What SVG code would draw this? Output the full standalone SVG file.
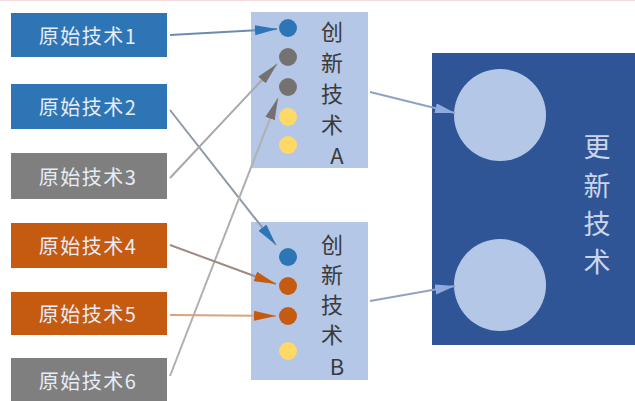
<svg xmlns="http://www.w3.org/2000/svg" width="635" height="401" viewBox="0 0 635 401">
<style>
.box text{font-family:"Noto Sans CJK SC","Noto Sans",sans-serif;font-size:20px;fill:#E6ECF5;text-anchor:middle;dominant-baseline:central;letter-spacing:1.5px}
.panel rect{fill:#B4C7E7}
.panel text{font-family:"Noto Sans CJK SC","Noto Sans",sans-serif;font-size:22px;fill:#3A3A3A;text-anchor:middle;dominant-baseline:central}
.big text{font-family:"Noto Sans CJK SC","Noto Sans",sans-serif;font-size:27px;fill:#C9D5EA;text-anchor:middle;dominant-baseline:central}
.blue{fill:#2E75B6}.gray{fill:#7F7F7F}.orange{fill:#C55A11}.dgray{fill:#767171}.yellow{fill:#FFD966}
.conn line{stroke-width:2;fill:none}
</style>
<defs>
<marker id="mb" markerUnits="userSpaceOnUse" markerWidth="24" markerHeight="12" refX="22" refY="5" orient="auto"><path d="M0,0 L22,5 L0,10 z" fill="#2E75B6"/></marker>
<marker id="mg" markerUnits="userSpaceOnUse" markerWidth="24" markerHeight="12" refX="22" refY="5" orient="auto"><path d="M0,0 L22,5 L0,10 z" fill="#767171"/></marker>
<marker id="mo" markerUnits="userSpaceOnUse" markerWidth="24" markerHeight="12" refX="22" refY="5" orient="auto"><path d="M0,0 L22,5 L0,10 z" fill="#C55A11"/></marker>
<marker id="ml" markerUnits="userSpaceOnUse" markerWidth="24" markerHeight="12" refX="20" refY="5" orient="auto"><path d="M0,0 L20,5 L0,10 z" fill="#8FAADC"/></marker>
</defs>
<rect width="635" height="401" fill="#FFFFFF"/>
<line x1="0" y1="0.5" x2="635" y2="0.5" stroke="#F6DCDC" stroke-width="1"/>
<g id="tech1" class="box"><rect x="11" y="13" width="156" height="44" class="blue"/><text x="88" y="35">原始技术1</text></g>
<g id="tech2" class="box"><rect x="11" y="84" width="156" height="45" class="blue"/><text x="88" y="106">原始技术2</text></g>
<g id="tech3" class="box"><rect x="11" y="153" width="156" height="46" class="gray"/><text x="88" y="176">原始技术3</text></g>
<g id="tech4" class="box"><rect x="11" y="223" width="156" height="45" class="orange"/><text x="88" y="245">原始技术4</text></g>
<g id="tech5" class="box"><rect x="11" y="292" width="156" height="43" class="orange"/><text x="88" y="313">原始技术5</text></g>
<g id="tech6" class="box"><rect x="11" y="358" width="156" height="46" class="gray"/><text x="88" y="380">原始技术6</text></g>
<g id="innovA" class="panel">
<rect x="251" y="12" width="117" height="156"/>
<circle cx="288" cy="28" r="9" class="blue"/>
<circle cx="288" cy="57" r="9" class="dgray"/>
<circle cx="288" cy="87" r="9" class="dgray"/>
<circle cx="288" cy="117" r="9" class="yellow"/>
<circle cx="288" cy="145" r="9" class="yellow"/>
<text x="332" y="30">创</text><text x="332" y="61">新</text><text x="332" y="92">技</text><text x="332" y="123">术</text><text x="337" y="154">A</text>
</g>
<g id="innovB" class="panel">
<rect x="251" y="222" width="117" height="158"/>
<circle cx="288" cy="257" r="9" class="blue"/>
<circle cx="288" cy="286" r="9" class="orange"/>
<circle cx="288" cy="316" r="9" class="orange"/>
<circle cx="288" cy="351" r="9" class="yellow"/>
<text x="332" y="243">创</text><text x="332" y="273">新</text><text x="332" y="303">技</text><text x="332" y="333">术</text><text x="337" y="365">B</text>
</g>
<g id="updated" class="big">
<rect x="432" y="53" width="203" height="292" fill="#2F5597"/>
<circle cx="500" cy="115" r="46" fill="#B4C7E7"/>
<circle cx="500" cy="285" r="46" fill="#B4C7E7"/>
<text x="597" y="145">更</text><text x="597" y="184">新</text><text x="597" y="222">技</text><text x="597" y="260">术</text>
</g>
<g id="connectors" class="conn">
<line x1="170" y1="35" x2="277" y2="29" stroke="#6C8BAE" marker-end="url(#mb)"/>
<line x1="170" y1="110" x2="276" y2="245" stroke="#8C99A8" marker-end="url(#mb)"/>
<line x1="170" y1="178" x2="277" y2="64" stroke="#A7A7A7" marker-end="url(#mg)"/>
<line x1="170" y1="376" x2="278" y2="98" stroke="#B0B0B0" marker-end="url(#mg)"/>
<line x1="170" y1="245" x2="276" y2="284" stroke="#9E8B80" marker-end="url(#mo)"/>
<line x1="170" y1="315" x2="276" y2="316" stroke="#D8A27E" marker-end="url(#mo)"/>
<line x1="370" y1="92" x2="455" y2="113" stroke="#8EA3C4" stroke-width="3" marker-end="url(#ml)"/>
<line x1="370" y1="301" x2="455" y2="286" stroke="#8EA3C4" stroke-width="3" marker-end="url(#ml)"/>
</g>
</svg>
